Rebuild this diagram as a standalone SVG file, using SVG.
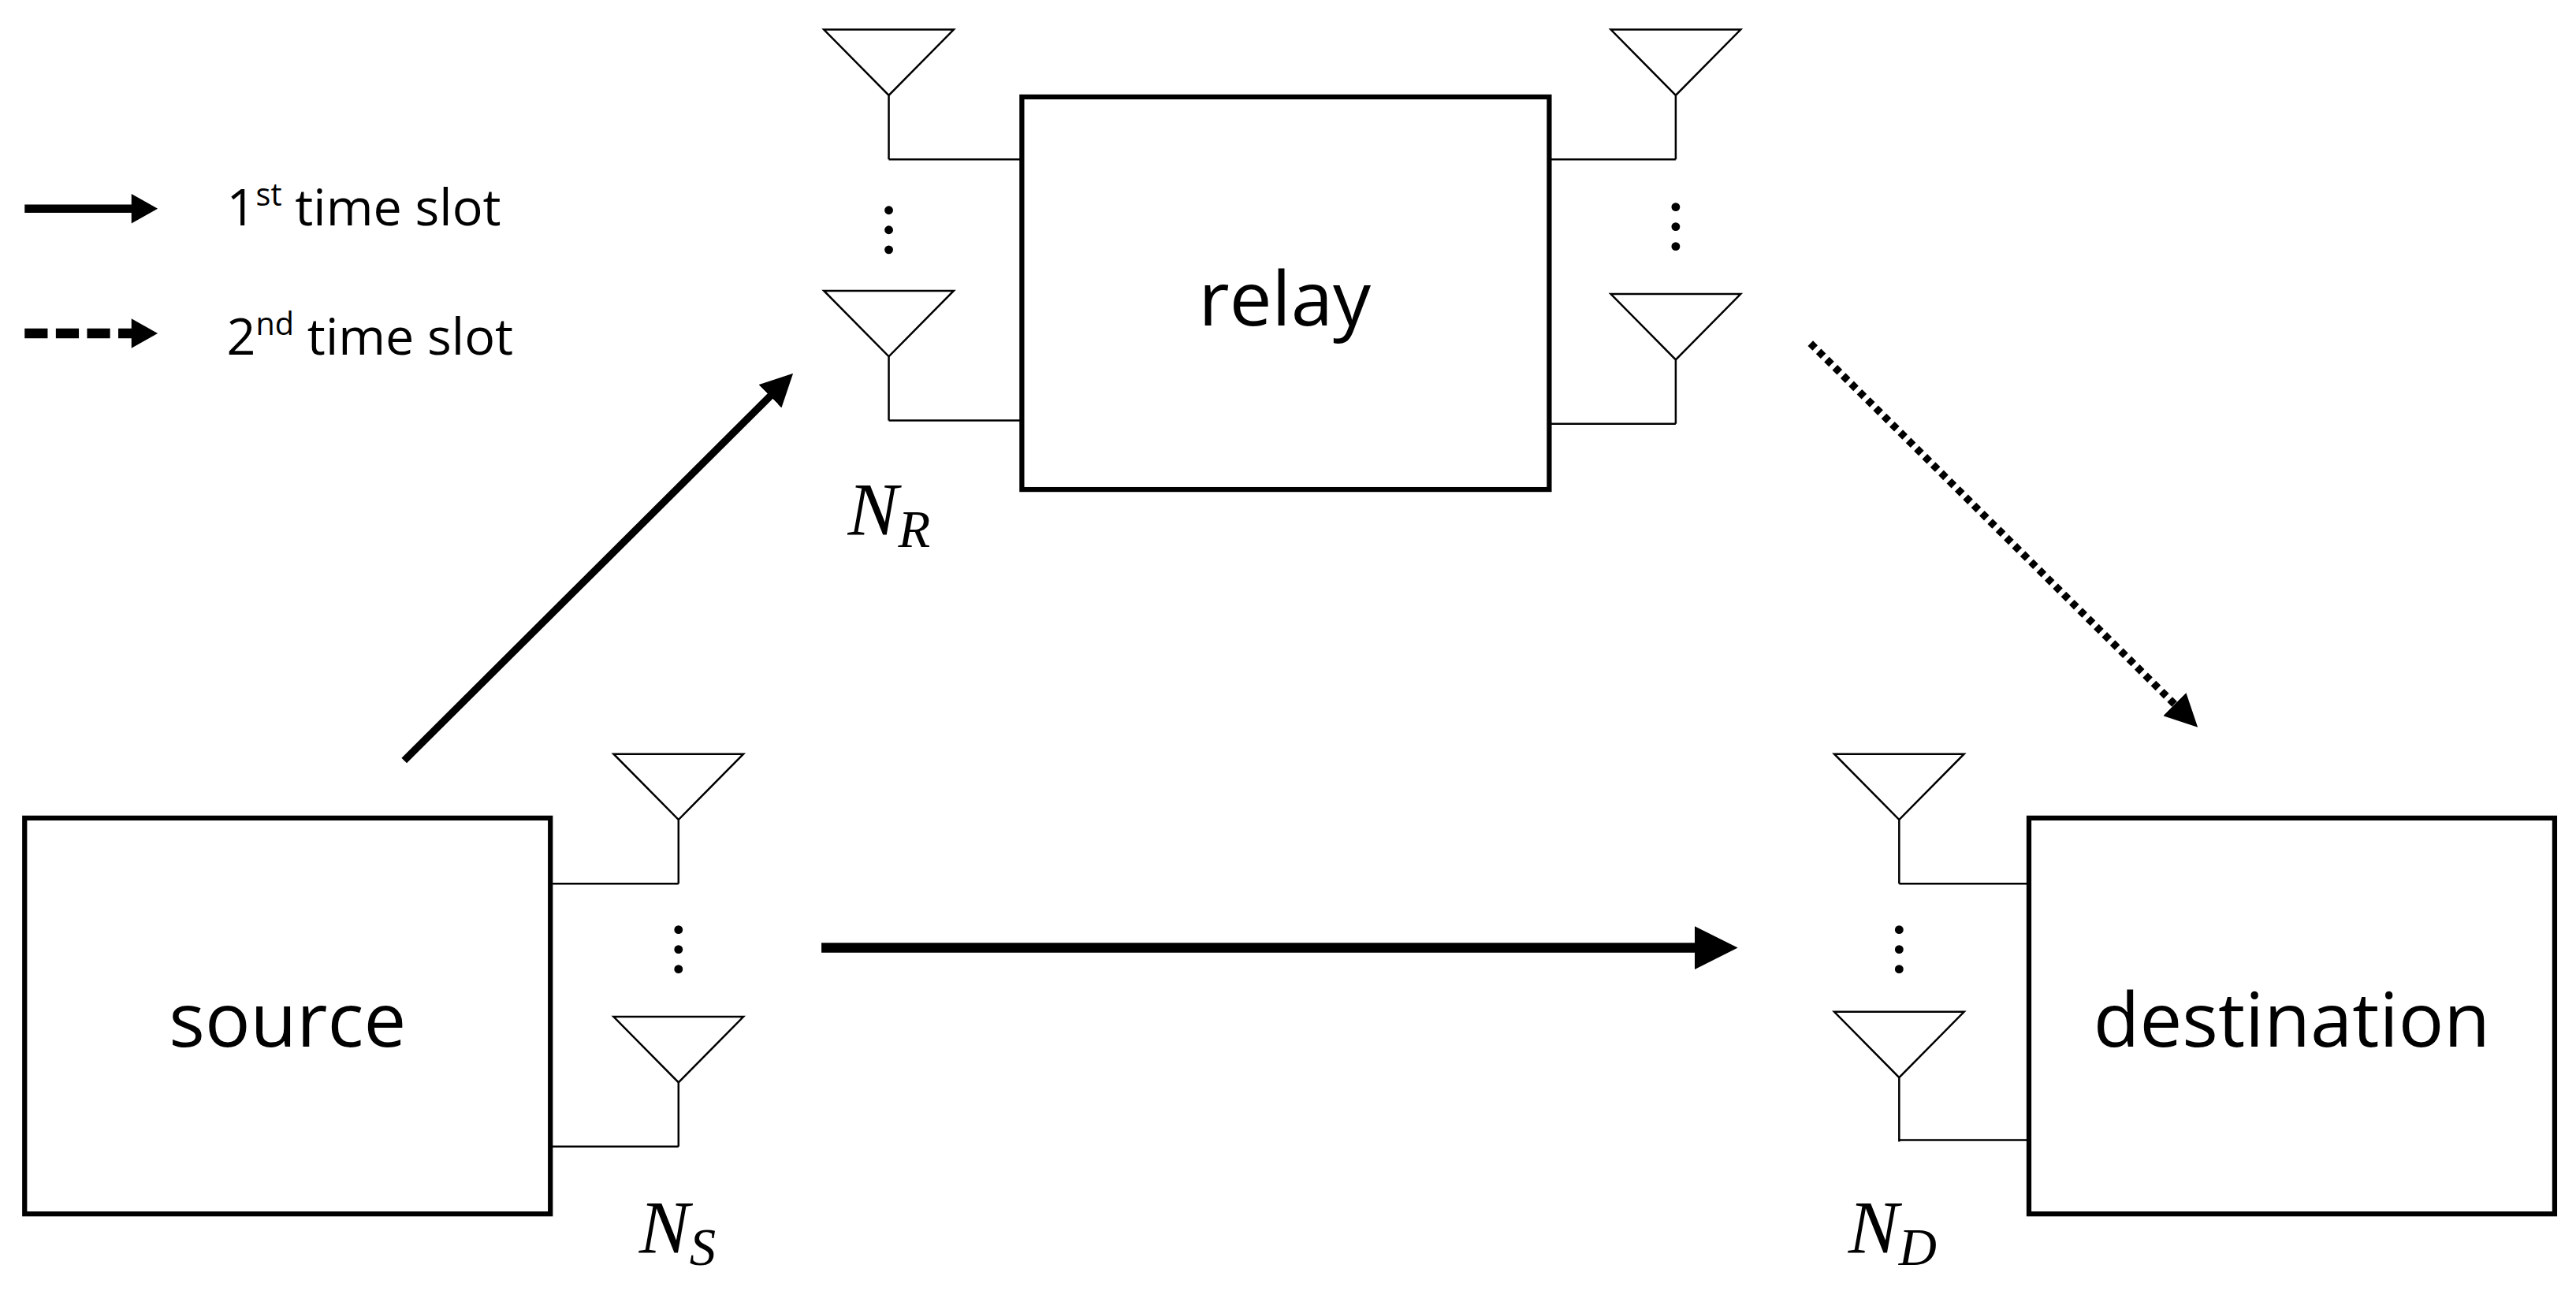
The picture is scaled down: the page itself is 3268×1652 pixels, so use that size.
<svg xmlns="http://www.w3.org/2000/svg" width="3268" height="1652" viewBox="0 0 3268 1652">
<style>
.box{fill:#fff;stroke:#000;stroke-width:3}
.ant{fill:none;stroke:#000;stroke-width:1.2}
.lbl{font-family:"Open Sans","Noto Sans",sans-serif;font-size:46px;text-anchor:middle;fill:#000}
.leg{font-family:"Open Sans","Noto Sans",sans-serif;font-size:31px;fill:#000}
.math{font-family:"Liberation Serif",serif;font-style:italic;font-size:46px;fill:#000}
.sub{font-size:32px}
.dot{fill:#000}
</style>
<defs>
<marker id="ah" markerWidth="4.4" markerHeight="4.4" refX="2.6" refY="2.2" orient="auto" markerUnits="strokeWidth"><path d="M0,0 L4.4,2.2 L0,4.4 z" fill="#000"/></marker>
<g id="antenna"><path class="ant" d="M-39.5,0 H39.5 L0,40 Z M0,40 V79"/></g>
<g id="dots"><circle class="dot" cx="0" cy="0" r="2.6"/><circle class="dot" cx="0" cy="12" r="2.6"/><circle class="dot" cx="0" cy="24" r="2.6"/></g>
</defs>
<rect width="3268" height="1652" fill="#fff"/>
<g transform="scale(2.0842)">
<g id="legend">
<line x1="15" y1="127" x2="82" y2="127" stroke="#000" stroke-width="5"/>
<path d="M80,118 L96,127 L80,136 z"/>
<text class="leg" x="138" y="137">1<tspan font-size="19" dy="-12">st</tspan><tspan dy="12"> time slot</tspan></text>
<line x1="15" y1="203" x2="82" y2="203" stroke="#000" stroke-width="6" stroke-dasharray="14,5"/>
<path d="M80,194 L96,203 L80,212 z"/>
<text class="leg" x="138" y="216">2<tspan font-size="19" dy="-12">nd</tspan><tspan dy="12"> time slot</tspan></text>
</g>
<g id="relay">
<rect class="box" x="622" y="59" width="321" height="239"/>
<text class="lbl" x="782" y="198">relay</text>
<use href="#antenna" x="541" y="18"/><path class="ant" d="M541,97 H622"/>
<use href="#dots" x="541" y="128"/>
<use href="#antenna" x="541" y="177"/><path class="ant" d="M541,256 H622"/>
<use href="#antenna" x="1020" y="18"/><path class="ant" d="M943,97 H1020"/>
<use href="#dots" x="1020" y="126"/>
<use href="#antenna" x="1020" y="179"/><path class="ant" d="M943,258 H1020"/>
<text class="math" x="516" y="326">N<tspan class="sub" dy="7">R</tspan></text>
</g>
<g id="source">
<rect class="box" x="15" y="498" width="320" height="241"/>
<text class="lbl" x="175" y="637">source</text>
<use href="#antenna" x="413" y="459"/><path class="ant" d="M335,538 H413"/>
<use href="#dots" x="413" y="566"/>
<use href="#antenna" x="413" y="619"/><path class="ant" d="M335,698 H413"/>
<text class="math" x="389" y="763">N<tspan class="sub" dy="7">S</tspan></text>
</g>
<g id="destination">
<rect class="box" x="1235" y="498" width="320" height="241"/>
<text class="lbl" x="1395" y="637">destination</text>
<use href="#antenna" x="1156" y="459"/><path class="ant" d="M1156,538 H1235"/>
<use href="#dots" x="1156" y="566"/>
<use href="#antenna" x="1156" y="616"/><path class="ant" d="M1156,694 H1235"/>
<text class="math" x="1125" y="763">N<tspan class="sub" dy="7">D</tspan></text>
</g>
<g id="connectors">
<line x1="246" y1="463" x2="477" y2="233" stroke="#000" stroke-width="4.5" marker-end="url(#ah)"/>
<line x1="500" y1="577" x2="1047" y2="577" stroke="#000" stroke-width="6" marker-end="url(#ah)"/>
<line x1="1102" y1="209" x2="1332" y2="437" stroke="#000" stroke-width="4.5" stroke-dasharray="4,3" marker-end="url(#ah)"/>
</g>
</g>
</svg>
